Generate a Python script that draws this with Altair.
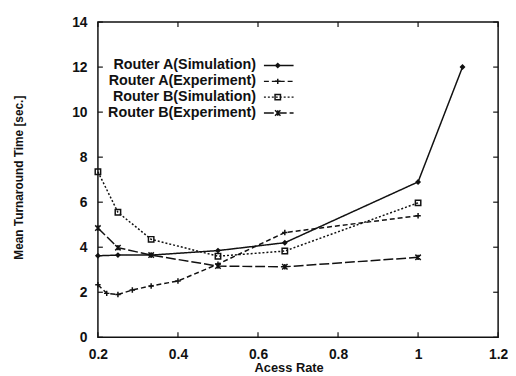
import altair as alt
import pandas as pd

# ---- data ----
names = ["Router A(Simulation)", "Router A(Experiment)",
         "Router B(Simulation)", "Router B(Experiment)"]

a_sim_x = [0.2, 0.25, 0.333, 0.5, 0.667, 1.0, 1.111]
a_sim_y = [3.62, 3.65, 3.65, 3.85, 4.2, 6.9, 12.0]

a_exp_x = [0.2, 0.222, 0.25, 0.286, 0.333, 0.4, 0.5, 0.667, 1.0]
a_exp_y = [2.33, 1.95, 1.9, 2.1, 2.28, 2.5, 3.25, 4.65, 5.4]

b_sim_x = [0.2, 0.25, 0.333, 0.5, 0.667, 1.0]
b_sim_y = [7.35, 5.55, 4.35, 3.6, 3.83, 5.97]

b_exp_x = [0.2, 0.25, 0.333, 0.5, 0.667, 1.0]
b_exp_y = [4.85, 3.98, 3.65, 3.16, 3.13, 3.55]

x_ticks = [0.2, 0.4, 0.6, 0.8, 1.0, 1.2]
y_ticks = [0, 2, 4, 6, 8, 10, 12, 14]

rows = []
for name, xs, ys in zip(names, [a_sim_x, a_exp_x, b_sim_x, b_exp_x],
                        [a_sim_y, a_exp_y, b_sim_y, b_exp_y]):
    for xv, yv in zip(xs, ys):
        rows.append({"series": name, "x": xv, "y": yv})
df = pd.DataFrame(rows)
leg_df = pd.DataFrame({"series": names})
xt_df = pd.DataFrame({"x": x_ticks})
yt_df = pd.DataFrame({"y": y_ticks})

W, H = 405, 319
INK = "#111111"
FONT = "Liberation Sans"

dash_scale = alt.Scale(domain=names, range=[[1, 0], [5, 3], [2, 2], [10, 3]])
shape_scale = alt.Scale(
    domain=names[1:],
    range=["M-1,0L1,0M0,-1L0,1", "square",
           "M-1,-1L1,1M-1,1L1,-1M0,-1L0,1"])

xs = alt.X("x:Q", scale=alt.Scale(domain=[0.2, 1.2], nice=False, zero=False),
           axis=alt.Axis(values=x_ticks, format="~g", ticks=False, grid=False,
                         domain=False, labelPadding=10, labelFontSize=14,
                         labelFontWeight="bold", labelFont=FONT, labelColor=INK,
                         title="Acess Rate", titleFontSize=13, titleFont=FONT,
                         titleFontWeight="bold", titleColor=INK,
                         titleX=193, titleY=25, titleAlign="center",
                         titleBaseline="top", labelFlush=False))
ys = alt.Y("y:Q", scale=alt.Scale(domain=[0, 14], nice=False),
           axis=alt.Axis(values=y_ticks, ticks=False, grid=False, domain=False,
                         labelPadding=11, labelFontSize=14,
                         labelFontWeight="bold", labelFont=FONT, labelColor=INK,
                         title="Mean Turnaround Time [sec.]", titleFontSize=12,
                         titleFont=FONT, titleFontWeight="bold", titleColor=INK,
                         titleX=-80, titleY=157, titleAngle=-90,
                         titleAlign="center", titleBaseline="middle",
                         labelFlush=False))

lines = alt.Chart(df).mark_line(strokeWidth=1.5, color=INK).encode(
    x=xs, y=ys,
    strokeDash=alt.StrokeDash("series:N", scale=dash_scale, legend=None),
)
pts_fill = alt.Chart(df).transform_filter(
    alt.datum.series == names[0]
).mark_point(filled=True, shape="diamond", size=36, color=INK, opacity=1).encode(
    x="x:Q", y="y:Q")
pts_open = alt.Chart(df).transform_filter(
    alt.datum.series != names[0]
).mark_point(filled=False, size=30, color=INK, strokeWidth=1.5, opacity=1).encode(
    x="x:Q", y="y:Q",
    shape=alt.Shape("series:N", scale=shape_scale, legend=None))

tick_w = 5
yt_l = alt.Chart(yt_df).mark_rule(color=INK, strokeWidth=1.2).encode(
    y="y:Q", x=alt.value(0), x2=alt.value(tick_w))
yt_r = alt.Chart(yt_df).mark_rule(color=INK, strokeWidth=1.2).encode(
    y="y:Q", x=alt.value(W - tick_w), x2=alt.value(W))
xt_b = alt.Chart(xt_df).mark_rule(color=INK, strokeWidth=1.2).encode(
    x="x:Q", y=alt.value(H), y2=alt.value(H - tick_w))
xt_t = alt.Chart(xt_df).mark_rule(color=INK, strokeWidth=1.2).encode(
    x="x:Q", y=alt.value(0), y2=alt.value(tick_w))

main = alt.layer(yt_l, yt_r, xt_b, xt_t, lines, pts_fill, pts_open)

# ---- gnuplot-style key ----
ly = alt.Y("series:N", sort=names,
           scale=alt.Scale(type="point", domain=names, range=[44, 92], padding=0),
           axis=None)
leg_text = alt.Chart(leg_df).mark_text(
    align="right", baseline="middle", fontSize=14.5, fontWeight="bold",
    font=FONT, color=INK).encode(x=alt.value(160), y=ly, text="series:N")
leg_rule = alt.Chart(leg_df).mark_rule(color=INK, strokeWidth=1.4).encode(
    x=alt.value(168), x2=alt.value(198), y=ly,
    strokeDash=alt.StrokeDash("series:N", scale=dash_scale, legend=None))
leg_pf = alt.Chart(leg_df).transform_filter(
    alt.datum.series == names[0]
).mark_point(filled=True, shape="diamond", size=36, color=INK, opacity=1).encode(
    x=alt.value(182), y=ly)
leg_po = alt.Chart(leg_df).transform_filter(
    alt.datum.series != names[0]
).mark_point(filled=False, size=30, color=INK, strokeWidth=1.5, opacity=1).encode(
    x=alt.value(182), y=ly,
    shape=alt.Shape("series:N", scale=shape_scale, legend=None))
legend = alt.layer(leg_text, leg_rule, leg_pf, leg_po)

chart = alt.layer(main, legend).resolve_scale(y="independent").properties(
    width=W, height=H,
    autosize=alt.AutoSizeParams(type="none"),
    padding={"left": 91, "top": 12, "right": 10, "bottom": 40},
    background="white",
).configure_view(stroke=INK, strokeWidth=1.5)

chart.save("out.html", embed_options={"renderer": "svg", "actions": False})
